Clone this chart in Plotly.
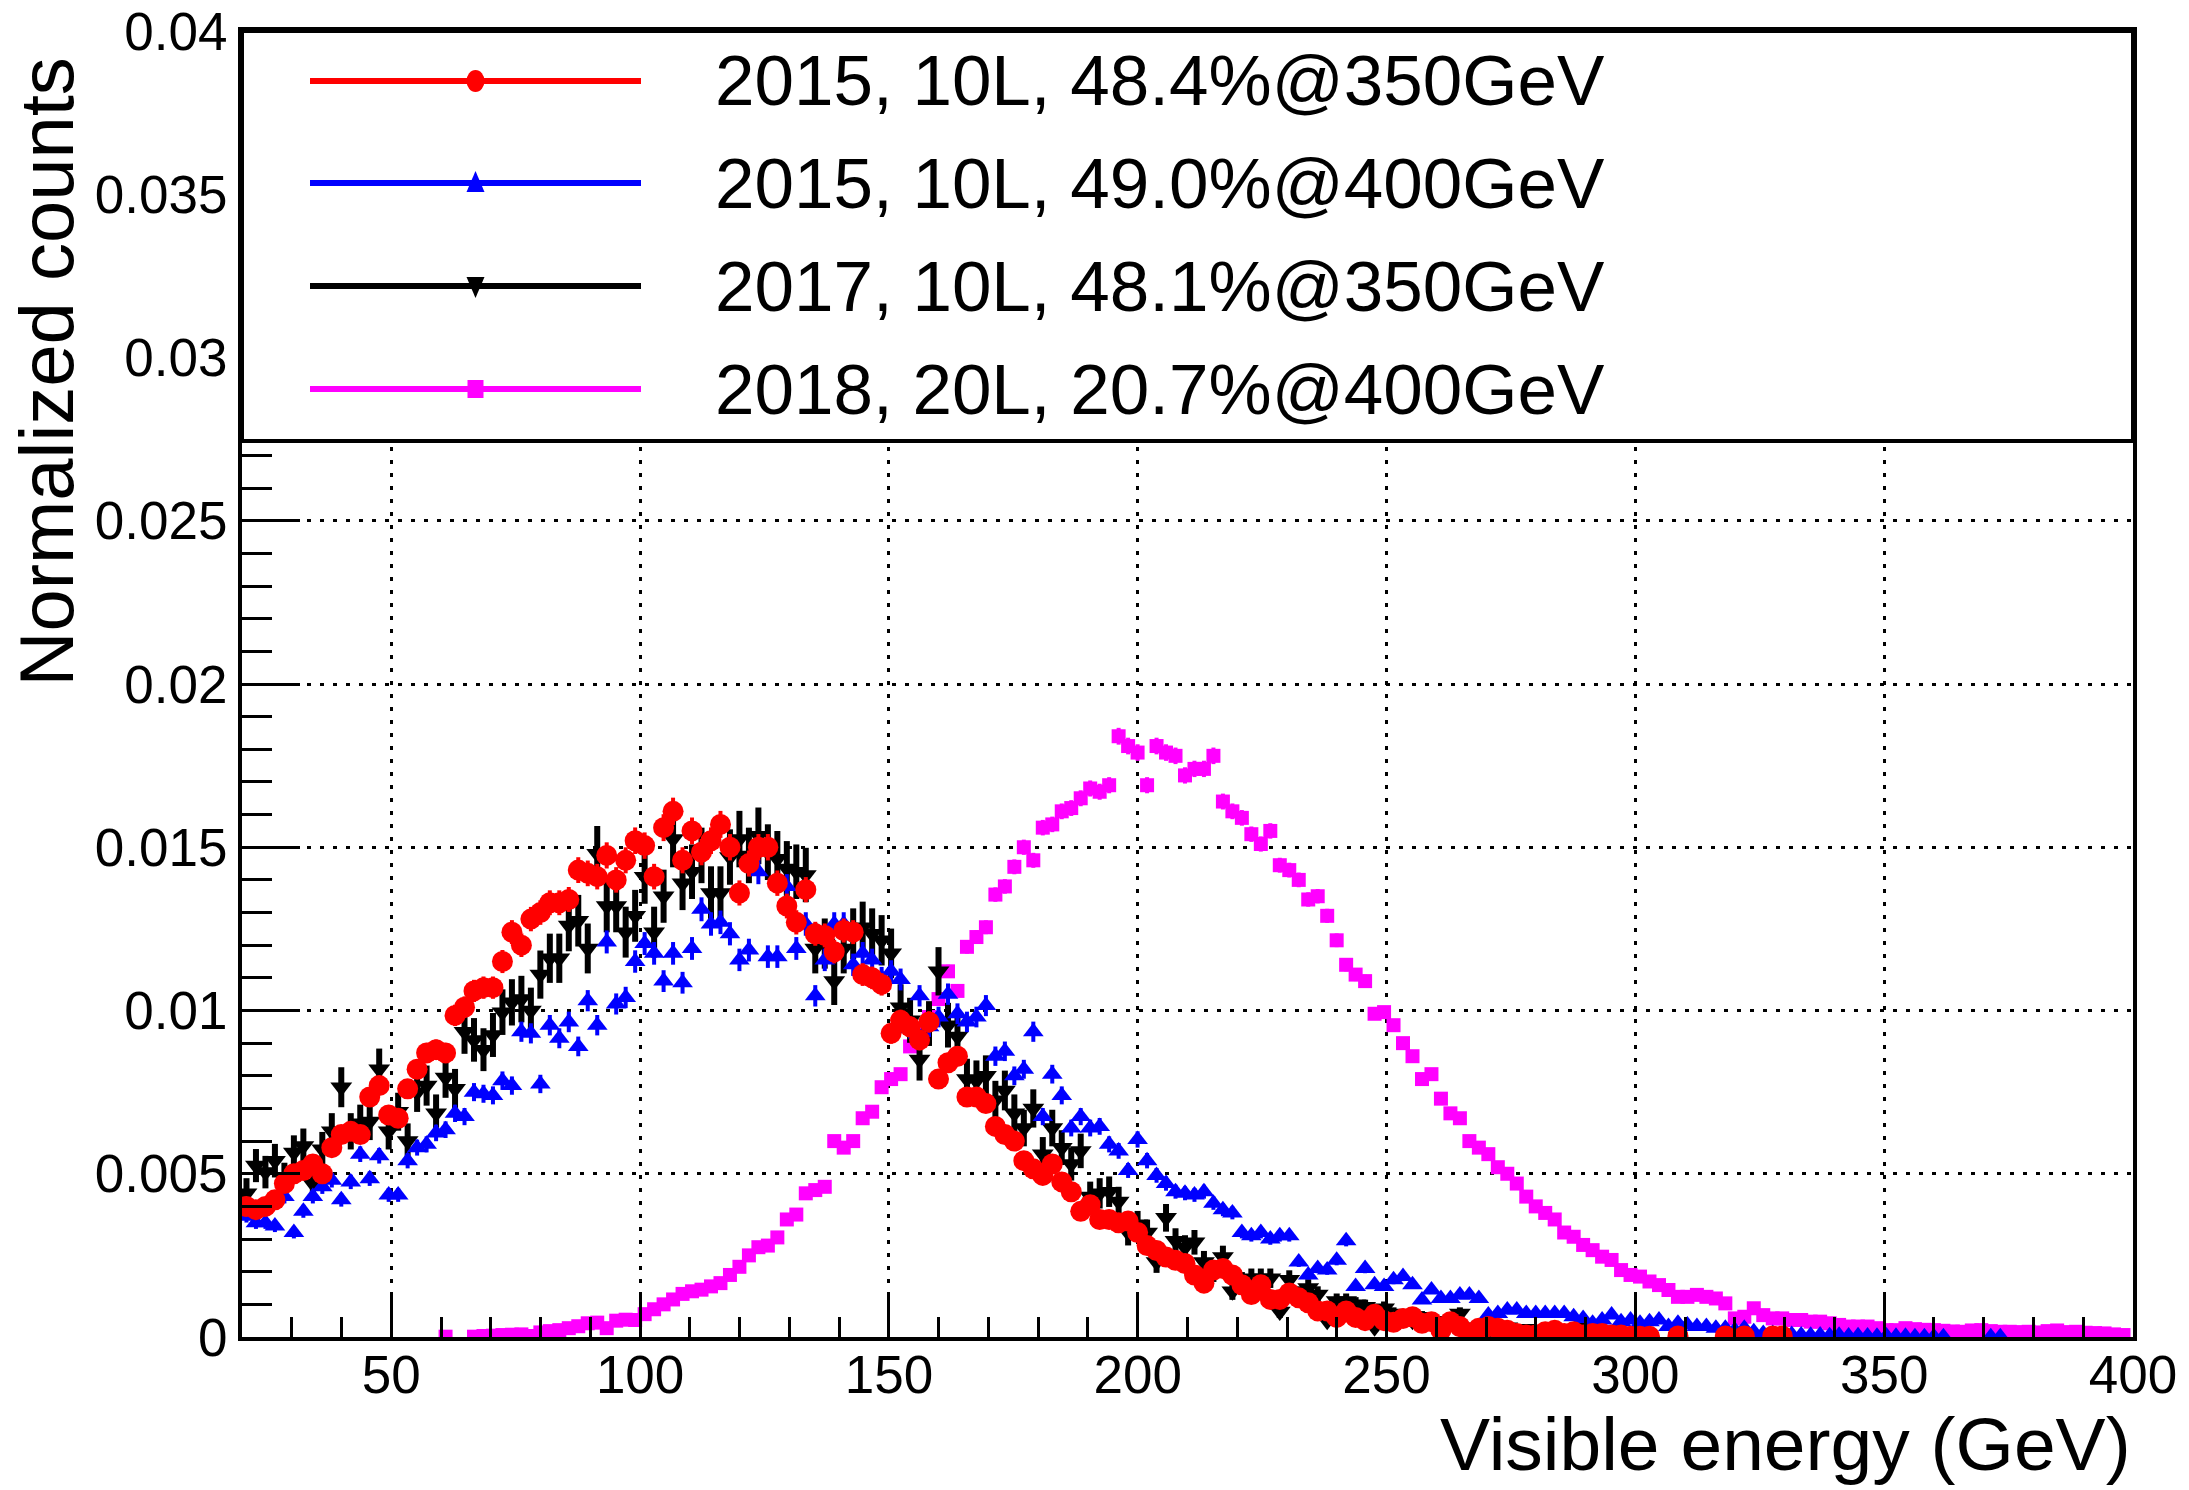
import math
import plotly.graph_objects as go

# ---------------- data (normalized counts, in units of 1e-3) ----------------
X_START = 20.9   # GeV, centre of first histogram bin
BIN_W = 1.905    # GeV, histogram bin width

red_e3 = [  # 2015, 10L, 48.4%@350GeV
    4.0, 3.9, 4.0, 4.2, 4.7, 5.0, 5.1, 5.3, 5.0, 5.8,
    6.2, 6.3, 6.2, 7.35, 7.7, 6.8, 6.7, 7.6, 8.2, 8.7,
    8.8, 8.7, 9.85, 10.1, 10.6, 10.7, 10.7, 11.5, 12.4, 12.0,
    12.8, 13.0, 13.3, 13.3, 13.4, 14.3, 14.2, 14.1, 14.75, 14.0,
    14.6, 15.2, 15.05, 14.1, 15.6, 16.1, 14.6, 15.5, 14.85, 15.2,
    15.7, 15.0, 13.6, 14.5, 15.0, 15.0, 13.9, 13.2, 12.7, 13.7,
    12.35, 12.3, 11.8, 12.45, 12.4, 11.1, 11.0, 10.8, 9.3, 9.7,
    9.5, 9.1, 9.65, 7.9, 8.4, 8.6, 7.35, 7.35, 7.15, 6.45,
    6.2, 6.0, 5.4, 5.15, 4.95, 5.3, 4.75, 4.45, 3.85, 4.05,
    3.6, 3.6, 3.5, 3.55, 3.2, 2.8, 2.65, 2.45, 2.35, 2.25,
    1.9, 1.65, 2.05, 2.1, 1.9, 1.6, 1.3, 1.6, 1.15, 1.15,
    1.35, 1.2, 1.05, 0.8, 0.8, 0.6, 0.8, 0.6, 0.5, 0.7,
    0.5, 0.45, 0.57, 0.62, 0.42, 0.47, 0.21, 0.47, 0.32, 0.06,
    0.27, 0.32, 0.27, 0.21, 0.11, 0.06, 0.06, 0.16, 0.21, 0.11,
    0.16, 0.06, 0.11, 0.11, 0.06, 0.06, 0.02, 0.02, 0.02, None,
    None, 0.03, None, None, None, None, 0.03, None, 0.03, None,
    None, 0.03, 0.03,
]

blue_e3 = [  # 2015, 10L, 49.0%@400GeV
    3.7, 3.5, 3.5, 3.4, 4.3, 3.2, 3.85, 4.3, 4.6, 4.8,
    4.2, 4.75, 5.6, 4.85, 5.55, 4.35, 4.35, 5.4, 5.8, 5.9,
    6.25, 6.35, 6.85, 6.75, 7.5, 7.45, 7.4, 7.85, 7.7, 9.35,
    9.3, 7.75, 9.55, 9.15, 9.65, 8.9, 10.3, 9.55, 12.1, 10.2,
    10.4, 11.5, 12.05, 11.75, 10.9, 11.75, 10.85, 11.9, 13.1, 12.65,
    12.7, 12.35, 11.55, 11.85, 14.25, 11.65, 11.65, 13.8, 11.9, 12.65,
    10.45, 11.55, 12.65, 12.65, 11.4, 11.75, 11.55, 11.0, 11.2, 10.95,
    9.45, 10.45, 9.5, 9.8, 10.5, 9.9, 9.65, 9.8, 10.15, 8.6,
    8.75, 8.0, 8.2, 9.35, 6.75, 8.05, 7.4, 6.4, 6.75, 6.4,
    6.45, 5.9, 5.7, 5.1, 6.05, 5.4, 4.95, 4.7, 4.45, 4.4,
    4.35, 4.45, 4.1, 3.9, 3.8, 3.2, 3.1, 3.2, 3.0, 3.1,
    3.1, 2.3, 1.9, 2.1, 2.05, 2.35, 2.95, 1.55, 2.1, 1.6,
    1.55, 1.75, 1.85, 1.6, 1.13, 1.44, 1.18, 1.18, 1.29, 1.29,
    1.18, 0.67, 0.72, 0.83, 0.83, 0.72, 0.72, 0.72, 0.72, 0.72,
    0.62, 0.57, 0.42, 0.52, 0.67, 0.47, 0.52, 0.42, 0.47, 0.52,
    0.32, 0.42, 0.37, 0.32, 0.32, 0.27, 0.27, 0.21, 0.27, 0.16,
    0.11, 0.11, 0.06, 0.08, 0.06, 0.05, 0.06, 0.04, 0.05, 0.03,
    0.04, 0.03, 0.02, 0.03, 0.02, 0.02, 0.01, 0.01, 0.01, 0.01,
    None, None, None, None, 0.01, 0.01,
]

black_e3 = [  # 2017, 10L, 48.1%@350GeV
    4.4, 5.25, 5.05, 5.4, 4.85, 5.65, 5.85, 4.7, 5.75, 6.3,
    7.65, 6.3, 6.55, 6.6, 8.2, 6.3, 6.9, 6.0, 7.5, 7.7,
    6.85, 7.95, 7.6, 9.35, 9.1, 8.8, 9.25, 9.95, 10.25, 10.35,
    10.0, 11.1, 11.6, 11.6, 12.6, 12.75, 11.9, 14.8, 13.2, 13.2,
    12.4, 12.9, 14.1, 12.4, 13.5, 15.25, 13.9, 14.25, 14.75, 13.6,
    13.6, 14.7, 15.25, 14.75, 15.35, 14.85, 14.65, 14.35, 14.25, 14.15,
    11.9, 12.05, 10.9, 11.9, 12.35, 12.55, 12.35, 12.15, 11.75, 10.1,
    9.7, 8.5, 9.6, 11.2, 9.55, 9.2, 7.9, 7.85, 8.0, 7.25,
    7.55, 6.85, 6.4, 7.0, 5.6, 6.4, 5.8, 5.3, 5.7, 4.3,
    4.4, 4.45, 4.15, 3.2, 3.45, 3.2, 2.3, 3.65, 2.95, 2.75,
    2.9, 2.3, 2.0, 2.45, 1.4, 1.7, 1.8, 1.8, 1.8, 0.78,
    1.75, 1.3, 1.5, 1.3, 0.5, 1.1, 1.1, 1.0, 0.93, 0.3,
    0.88, 0.72, 0.6, 0.5, 0.62, 0.5, 0.35, 0.45, 0.72, 0.3,
    0.25, 0.2, 0.05, 0.3, 0.15, 0.25, 0.1, 0.15, 0.1, 0.05,
    0.12, 0.4, 0.05, 0.08, 0.04, 0.05,
]

magenta_e3 = [  # 2018, 20L, 20.7%@400GeV
    None, None, None, None, None, None, None, None, None, None,
    None, None, None, None, None, None, None, None, None, None,
    None, 0.01, None, None, 0.01, 0.03, 0.04, 0.06, 0.07, 0.08,
    0.03, 0.14, 0.18, 0.21, 0.27, 0.33, 0.42, 0.44, 0.27, 0.5,
    0.53, 0.52, 0.7, 0.85, 1.0, 1.15, 1.32, 1.4, 1.45, 1.55,
    1.65, 1.9, 2.15, 2.5, 2.75, 2.8, 3.05, 3.6, 3.75, 4.4,
    4.5, 4.6, 6.0, 5.8, 6.0, 6.7, 6.9, 7.65, 7.9, 8.05,
    8.9, 9.3, 9.8, 10.35, 11.2, 10.6, 11.95, 12.25, 12.55, 13.55,
    13.8, 14.4, 15.0, 14.6, 15.6, 15.7, 16.1, 16.2, 16.5, 16.8,
    16.7, 16.9, 18.4, 18.1, 17.9, 16.9, 18.1, 17.9, 17.8, 17.2,
    17.4, 17.4, 17.8, 16.4, 16.1, 15.9, 15.4, 15.1, 15.5, 14.45,
    14.3, 14.0, 13.4, 13.5, 12.9, 12.15, 11.4, 11.1, 10.9, 9.9,
    9.95, 9.55, 9.0, 8.6, 7.9, 8.05, 7.3, 6.85, 6.7, 6.0,
    5.8, 5.6, 5.2, 5.0, 4.7, 4.3, 4.0, 3.8, 3.6, 3.2,
    3.07, 2.82, 2.66, 2.46, 2.36, 2.05, 1.9, 1.85, 1.7, 1.59,
    1.44, 1.23, 1.23, 1.29, 1.23, 1.18, 1.03, 0.57, 0.62, 0.88,
    0.67, 0.57, 0.57, 0.52, 0.52, 0.47, 0.47, 0.42, 0.37, 0.32,
    0.32, 0.32, 0.27, 0.21, 0.21, 0.27, 0.24, 0.22, 0.21, 0.19,
    0.17, 0.16, 0.2, 0.21, 0.18, 0.16, 0.16, 0.15, 0.16, 0.14,
    0.18, 0.2, 0.15, 0.16, 0.13, 0.12, 0.11, 0.08, 0.06,
]

legend_labels = [
    "2015, 10L, 48.4%@350GeV",
    "2015, 10L, 49.0%@400GeV",
    "2017, 10L, 48.1%@350GeV",
    "2018, 20L, 20.7%@400GeV",
]

x_tick_vals = [50, 100, 150, 200, 250, 300, 350, 400]
y_tick_vals = [0, 0.005, 0.01, 0.015, 0.02, 0.025, 0.03, 0.035, 0.04]
y_tick_text = ["0", "0.005", "0.01", "0.015", "0.02", "0.025", "0.03", "0.035", "0.04"]

# statistical error scale per series (size of the drawn error bars)
ERR_SCALE = {"red": 3.3e-3, "blue": 3.2e-3, "black": 7.0e-3, "magenta": 1.9e-3}

FONT = "Liberation Sans, Arial, Helvetica, sans-serif"


def centres(n):
    return [round(X_START + BIN_W * i, 3) for i in range(n)]


def counts(vals):
    return [None if v is None else v * 1e-3 for v in vals]


def errors(vals, scale):
    return [None if v is None else scale * math.sqrt(v * 1e-3) for v in vals]


series = [
    # (values, colour, symbol, size, err scale key, error thickness)
    (magenta_e3, "#ff00ff", "square", 14, "magenta", 4),
    (black_e3, "#000000", "triangle-down", 19, "black", 6),
    (blue_e3, "#0000ff", "triangle-up", 18, "blue", 4),
    (red_e3, "#ff0000", "circle", 21, "red", 4),
]

fig = go.Figure()
for vals, col, sym, size, key, thick in series:
    fig.add_trace(go.Scatter(
        x=centres(len(vals)), y=counts(vals), mode="markers",
        marker=dict(color=col, symbol=sym, size=size, line=dict(width=0)),
        error_y=dict(type="data", array=errors(vals, ERR_SCALE[key]),
                     color=col, thickness=thick, width=0, visible=True),
        showlegend=False, hoverinfo="skip",
    ))

W, H = 2189, 1490
ML, MR, MT, MB = 242, 56, 31, 153
PW, PH = W - ML - MR, H - MT - MB

fig.update_layout(
    width=W, height=H,
    margin=dict(l=ML, r=MR, t=MT, b=MB, pad=0, autoexpand=False),
    paper_bgcolor="white", plot_bgcolor="white",
    font=dict(family=FONT, color="black", size=53),
    showlegend=False,
    xaxis=dict(
        range=[20, 400], showline=True, linewidth=4, linecolor="black", mirror=True,
        automargin=False,
        ticks="inside", ticklen=43, tickwidth=3, tickcolor="black",
        tickvals=x_tick_vals, tickfont=dict(size=53, family=FONT),
        ticklabelstandoff=-12,
        showgrid=True, gridcolor="black", gridwidth=3, griddash="4px,9px",
        zeroline=False,
        minor=dict(dtick=10, tick0=0, ticks="inside", ticklen=20, tickwidth=3,
                   tickcolor="black", showgrid=False),
    ),
    yaxis=dict(
        range=[0, 0.04], showline=True, linewidth=4, linecolor="black", mirror=True,
        automargin=False,
        ticks="inside", ticklen=58, tickwidth=3, tickcolor="black",
        tickvals=y_tick_vals, ticktext=y_tick_text, tickfont=dict(size=53, family=FONT),
        showgrid=True, gridcolor="black", gridwidth=3, griddash="4px,9px",
        zeroline=False,
        minor=dict(dtick=0.001, tick0=0, ticks="inside", ticklen=30, tickwidth=3,
                   tickcolor="black", showgrid=False),
    ),
)

# axis titles (ROOT style: aligned to the end of the axis)
fig.add_annotation(text="Normalized counts", xref="paper", yref="paper",
                   x=(46 - ML) / PW, y=(H - MB - 56) / PH, xanchor="center", yanchor="top",
                   textangle=-90, showarrow=False, font=dict(size=76, family=FONT))
fig.add_annotation(text="Visible energy (GeV)", xref="paper", yref="paper",
                   x=1.0, y=(H - MB - 1444) / PH, xanchor="right", yanchor="middle",
                   showarrow=False, font=dict(size=75, family=FONT))

# legend box (drawn manually, ROOT TLegend style)
box_bottom = (H - MB - 441) / PH
fig.add_shape(type="rect", xref="paper", yref="paper", x0=0, x1=1, y0=box_bottom, y1=1,
              line=dict(color="black", width=4), fillcolor="white", layer="above")

px_x, px_y = 1.0 / PW, 1.0 / PH
row_px = [81, 183, 286, 389]
line_x0, line_x1 = (310 - ML) / PW, (641 - ML) / PW
mx = (line_x0 + line_x1) / 2
text_x = (713 - ML) / PW
legend_style = [("#ff0000", "circle"), ("#0000ff", "triangle-up"),
                ("#000000", "triangle-down"), ("#ff00ff", "square")]
for lab, rp, (col, sym) in zip(legend_labels, row_px, legend_style):
    yy = (H - MB - rp) / PH
    fig.add_shape(type="line", xref="paper", yref="paper", x0=line_x0, x1=line_x1,
                  y0=yy, y1=yy, line=dict(color=col, width=6), layer="above")
    if sym == "circle":
        fig.add_shape(type="circle", xref="paper", yref="paper",
                      x0=mx - 9 * px_x, x1=mx + 9 * px_x, y0=yy - 11 * px_y, y1=yy + 11 * px_y,
                      line=dict(width=0), fillcolor=col, layer="above")
    elif sym == "square":
        fig.add_shape(type="rect", xref="paper", yref="paper",
                      x0=mx - 8 * px_x, x1=mx + 8 * px_x, y0=yy - 9 * px_y, y1=yy + 9 * px_y,
                      line=dict(width=0), fillcolor=col, layer="above")
    else:
        s = 1 if sym == "triangle-up" else -1
        path = (f"M {mx - 9 * px_x},{yy - s * 9 * px_y} L {mx + 9 * px_x},{yy - s * 9 * px_y} "
                f"L {mx},{yy + s * 12 * px_y} Z")
        fig.add_shape(type="path", xref="paper", yref="paper", path=path,
                      line=dict(width=0), fillcolor=col, layer="above")
    fig.add_annotation(text=lab, xref="paper", yref="paper", x=text_x, y=yy,
                       xanchor="left", yanchor="middle", showarrow=False,
                       font=dict(size=71, family=FONT, color="black"))

fig.write_html("out.html")
